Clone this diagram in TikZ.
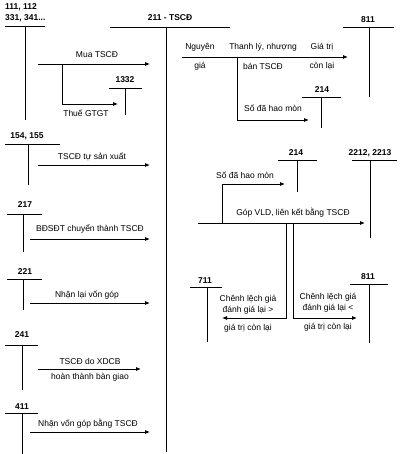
\documentclass[tikz,border=0pt]{standalone}
\usepackage{fontspec}
\setmainfont{Liberation Sans}
\usetikzlibrary{arrows.meta}
\begin{document}
\begin{tikzpicture}[x=1pt,y=-1pt,
  acc/.style={font=\bfseries\fontsize{8.5}{11}\selectfont, inner sep=0pt},
  lbl/.style={font=\fontsize{8.5}{10}\selectfont, inner sep=0pt},
  ln/.style={line width=0.8pt},
  arr/.style={line width=0.8pt, -{Latex[length=5pt,width=4pt]}}]
\useasboundingbox (0,0) rectangle (400,454);

% ---------- 111 ----------
\node[acc, anchor=west, align=left] (a111) at (5,13) {111, 112\\331, 341...};
\coordinate (l111) at (5,26); \coordinate (r111) at (45,26);
\coordinate (t111) at (25,26); \coordinate (b111) at (25,120);
\draw[ln] (l111) -- (r111); \draw[ln] (t111) -- (b111);

% ---------- 211 ----------
\node[acc] (a211) at (170,18) {211 - TSCĐ};
\coordinate (l211) at (110,27); \coordinate (r211) at (230,27);
\coordinate (t211) at (166,27); \coordinate (b211) at (166,452);
\draw[ln] (l211) -- (r211); \draw[ln] (t211) -- (b211);

% Mua TSCD
\coordinate (m1) at (38,64); \coordinate (m2) at (150,64);
\draw[arr] (m1) -- (m2);
\node[lbl] (lmua) at (97,55) {Mua TSCĐ};
\coordinate (mb) at (62,64); \coordinate (me) at (118,104);
\draw[arr] (mb) |- (me);
\node[lbl] (lvat) at (86,113) {Thuế GTGT};

% ---------- 1332 ----------
\node[acc] (a1332) at (125,80) {1332};
\coordinate (l1332) at (109,88); \coordinate (r1332) at (142,88);
\coordinate (t1332) at (125,88); \coordinate (b1332) at (125,115);
\draw[ln] (l1332) -- (r1332); \draw[ln] (t1332) -- (b1332);

% ---------- 154, 155 ----------
\node[acc] (a154) at (27,136) {154, 155};
\coordinate (l154) at (5,144); \coordinate (r154) at (60,144);
\coordinate (t154) at (28,144); \coordinate (b154) at (28,185);
\draw[ln] (l154) -- (r154); \draw[ln] (t154) -- (b154);
\coordinate (s1) at (38,165); \coordinate (s2) at (150,165);
\draw[arr] (s1) -- (s2);
\node[lbl] (lsx) at (92,157) {TSCĐ tự sản xuất};

% ---------- 217 ----------
\node[acc] (a217) at (25,205) {217};
\coordinate (l217) at (7,214); \coordinate (r217) at (42,214);
\coordinate (t217) at (23,214); \coordinate (b217) at (23,252);
\draw[ln] (l217) -- (r217); \draw[ln] (t217) -- (b217);
\coordinate (d1) at (30,239); \coordinate (d2) at (150,239);
\draw[arr] (d1) -- (d2);
\node[lbl] (lbds) at (90,229) {BĐSĐT chuyển thành TSCĐ};

% ---------- 221 ----------
\node[acc] (a221) at (25,272) {221};
\coordinate (l221) at (7,279); \coordinate (r221) at (42,279);
\coordinate (t221) at (23,279); \coordinate (b221) at (23,310);
\draw[ln] (l221) -- (r221); \draw[ln] (t221) -- (b221);
\coordinate (n1) at (30,303); \coordinate (n2) at (150,303);
\draw[arr] (n1) -- (n2);
\node[lbl] (lnl) at (87,295) {Nhận lại vốn góp};

% ---------- 241 ----------
\node[acc] (a241) at (22,335) {241};
\coordinate (l241) at (5,345); \coordinate (r241) at (38,345);
\coordinate (t241) at (22,345); \coordinate (b241) at (22,390);
\draw[ln] (l241) -- (r241); \draw[ln] (t241) -- (b241);
\coordinate (x1) at (38,369); \coordinate (x2) at (141,369);
\draw[arr] (x1) -- (x2);
\node[lbl] (lxd1) at (90,361) {TSCĐ do XDCB};
\node[lbl] (lxd2) at (90,377) {hoàn thành bàn giao};

% ---------- 411 ----------
\node[acc] (a411) at (22,407) {411};
\coordinate (l411) at (5,413); \coordinate (r411) at (38,413);
\coordinate (t411) at (22,413); \coordinate (b411) at (22,454);
\draw[ln] (l411) -- (r411); \draw[ln] (t411) -- (b411);
\coordinate (v1) at (30,432); \coordinate (v2) at (150,432);
\draw[arr] (v1) -- (v2);
\node[lbl] (lvg) at (88,424) {Nhận vốn góp bằng TSCĐ};

% ---------- 811 (top) ----------
\node[acc] (a811a) at (368,20) {811};
\coordinate (l811a) at (343,27); \coordinate (r811a) at (394,27);
\coordinate (t811a) at (369,27); \coordinate (b811a) at (369,97);
\draw[ln] (l811a) -- (r811a); \draw[ln] (t811a) -- (b811a);
\coordinate (tl1) at (182,57); \coordinate (tl2) at (348,57);
\draw[arr] (tl1) -- (tl2);
\node[lbl] (lng1) at (200,47) {Nguyên};
\node[lbl] (lng2) at (200,66) {giá};
\node[lbl] (ltl1) at (263,47) {Thanh lý, nhượng};
\node[lbl] (ltl2) at (263,66) {bán TSCĐ};
\node[lbl] (lgt1) at (322,47) {Giá trị};
\node[lbl] (lgt2) at (322,66) {còn lại};
\coordinate (hb) at (237,57); \coordinate (he) at (309,120);
\draw[arr] (hb) |- (he);
\node[lbl] (lhm1) at (273,108) {Số đã hao mòn};

% ---------- 214 (top) ----------
\node[acc] (a214a) at (322,90) {214};
\coordinate (l214a) at (302,97); \coordinate (r214a) at (341,97);
\coordinate (t214a) at (321,97); \coordinate (b214a) at (321,128);
\draw[ln] (l214a) -- (r214a); \draw[ln] (t214a) -- (b214a);

% ---------- 214 (middle) ----------
\node[acc] (a214b) at (296,153) {214};
\coordinate (l214b) at (278,160); \coordinate (r214b) at (317,160);
\coordinate (t214b) at (297,160); \coordinate (b214b) at (297,192);
\draw[ln] (l214b) -- (r214b); \draw[ln] (t214b) -- (b214b);

% ---------- 2212, 2213 ----------
\node[acc] (a2212) at (370,153) {2212, 2213};
\coordinate (l2212) at (352,160); \coordinate (r2212) at (397,160);
\coordinate (t2212) at (370,160); \coordinate (b2212) at (370,238);
\draw[ln] (l2212) -- (r2212); \draw[ln] (t2212) -- (b2212);

\coordinate (g1) at (198,223); \coordinate (g2) at (365,223);
\draw[arr] (g1) -- (g2);
\node[lbl] (lgop) at (293,213) {Góp VLD, liên kết bằng TSCĐ};
\coordinate (hb2) at (222,223); \coordinate (he2) at (285,184);
\draw[arr] (hb2) |- (he2);
\node[lbl] (lhm2) at (245,175) {Số đã hao mòn};

\coordinate (cl0) at (286,223); \coordinate (cl1) at (222,318);
\draw[arr] (cl0) |- (cl1);
\coordinate (cr0) at (293,223); \coordinate (cr1) at (357,318);
\draw[arr] (cr0) |- (cr1);

% ---------- 711 ----------
\node[acc] (a711) at (205,281) {711};
\coordinate (l711) at (190,287); \coordinate (r711) at (222,287);
\coordinate (t711) at (207,287); \coordinate (b711) at (207,342);
\draw[ln] (l711) -- (r711); \draw[ln] (t711) -- (b711);
\node[lbl] (lcl1) at (248,299) {Chênh lệch giá};
\node[lbl] (lcl2) at (248,310) {đánh giá lại >};
\node[lbl] (lcl3) at (248,328) {giá trị còn lại};

% ---------- 811 (bottom) ----------
\node[acc] (a811b) at (368,277) {811};
\coordinate (l811b) at (350,284); \coordinate (r811b) at (388,284);
\coordinate (t811b) at (369,284); \coordinate (b811b) at (369,343);
\draw[ln] (l811b) -- (r811b); \draw[ln] (t811b) -- (b811b);
\node[lbl] (lcr1) at (328,297) {Chênh lệch giá};
\node[lbl] (lcr2) at (328,308) {đánh giá lại <};
\node[lbl] (lcr3) at (328,327) {giá trị còn lại};
\end{tikzpicture}
\end{document}
